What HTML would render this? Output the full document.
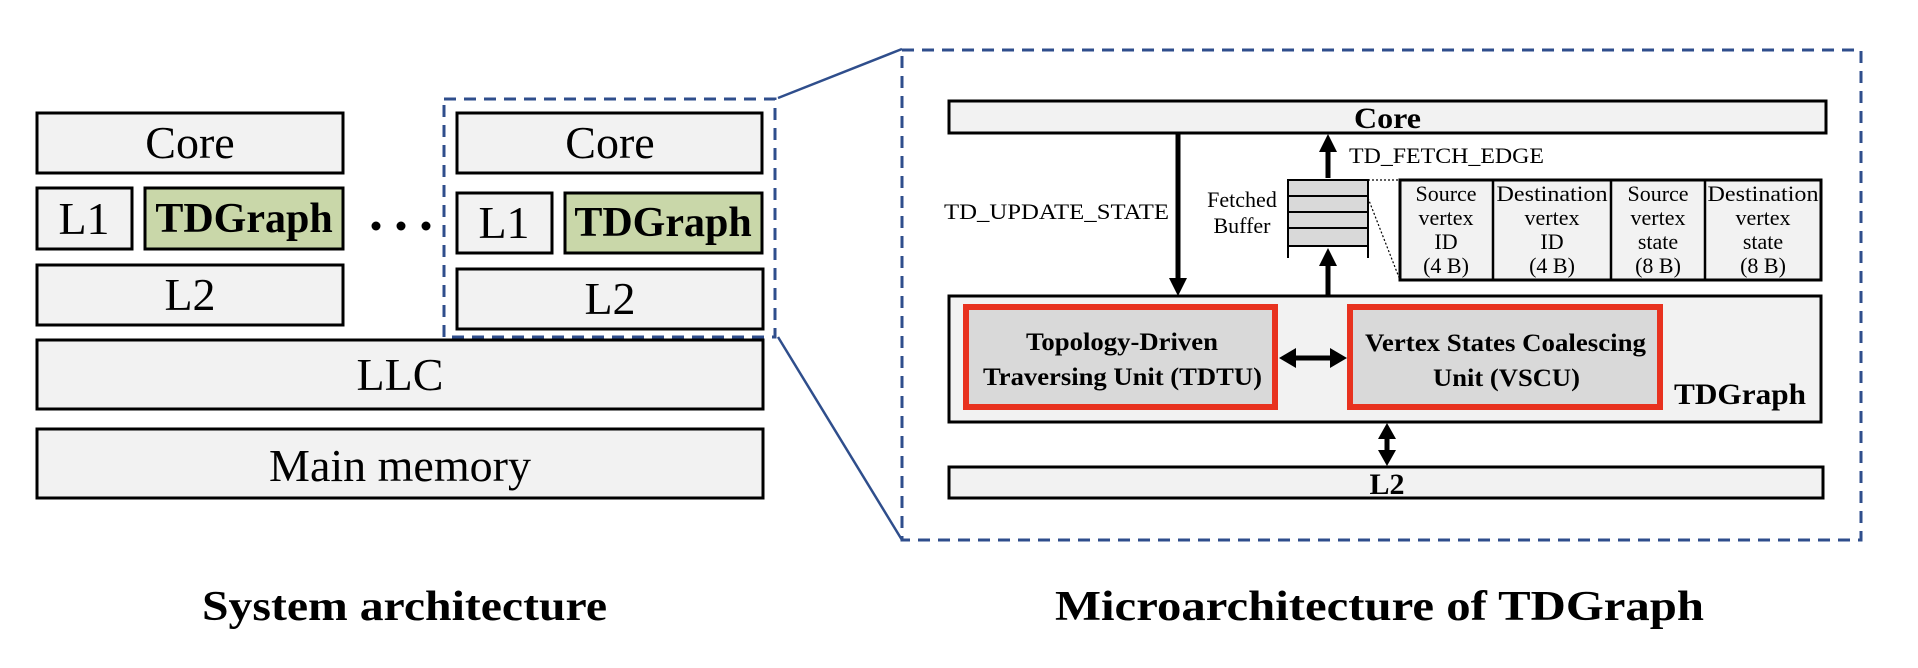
<!DOCTYPE html>
<html><head><meta charset="utf-8"><style>
html,body{margin:0;padding:0;background:#fff;}
svg{display:block;}
text{font-family:"Liberation Serif",serif;fill:#000;}
</style></head><body>
<svg width="1918" height="668" viewBox="0 0 1918 668" xmlns="http://www.w3.org/2000/svg">
<!-- Left system -->
<g stroke="#000" stroke-width="3" fill="#f2f2f2">
<rect x="37" y="113" width="306" height="60"/>
<rect x="37" y="188" width="95" height="61"/>
<rect x="145" y="188" width="198" height="61" fill="#c9d7a9"/>
<rect x="37" y="265" width="306" height="60"/>
<rect x="457" y="113" width="305" height="60"/>
<rect x="457" y="193" width="95" height="60"/>
<rect x="565" y="193" width="197" height="60" fill="#c9d7a9"/>
<rect x="457" y="269" width="306" height="60"/>
<rect x="37" y="340" width="726" height="69"/>
<rect x="37" y="429" width="726" height="69"/>
</g>
<g font-size="46" text-anchor="middle">
<text x="190" y="158">Core</text>
<text x="84" y="234">L1</text>
<text x="244" y="232" font-weight="bold" font-size="42">TDGraph</text>
<text x="190" y="310">L2</text>
<text x="610" y="158">Core</text>
<text x="504" y="238">L1</text>
<text x="663" y="236" font-weight="bold" font-size="42">TDGraph</text>
<text x="610" y="314">L2</text>
<text x="400" y="390">LLC</text>
<text x="400" y="481">Main memory</text>
</g>
<g fill="#000"><circle cx="376" cy="226" r="4.5"/><circle cx="401" cy="226" r="4.5"/><circle cx="426" cy="226" r="4.5"/></g>
<!-- dashed boxes -->
<g stroke="#2f4e8c" stroke-width="3" fill="none" stroke-dasharray="12,8">
<rect x="444" y="99" width="331" height="238"/>
<rect x="902" y="50" width="959" height="490"/>
</g>
<g stroke="#2f4e8c" stroke-width="2.5">
<line x1="778" y1="98" x2="902" y2="49"/>
<line x1="778" y1="337" x2="902" y2="540"/>
</g>
<!-- micro -->
<g stroke="#000" stroke-width="3" fill="#f2f2f2">
<rect x="949" y="101" width="877" height="32"/>
<rect x="949" y="296" width="872" height="126"/>
<rect x="949" y="467" width="874" height="31"/>
<rect x="1400" y="180" width="421" height="100"/>
</g>
<g stroke="#000" stroke-width="2.5"><line x1="1493" y1="180" x2="1493" y2="280"/><line x1="1611" y1="180" x2="1611" y2="280"/><line x1="1705" y1="180" x2="1705" y2="280"/></g>
<g stroke="#e8321f" stroke-width="6" fill="#d9d9d9">
<rect x="966" y="307" width="309" height="100"/>
<rect x="1350" y="307" width="310" height="100"/>
</g>
<!-- buffer -->
<g stroke="#000" stroke-width="2" fill="#d9d9d9">
<rect x="1288" y="180" width="80" height="16"/><rect x="1288" y="196" width="80" height="16"/>
<rect x="1288" y="212" width="80" height="16"/><rect x="1288" y="228" width="80" height="18"/>
<line x1="1288" y1="246" x2="1288" y2="258"/><line x1="1368" y1="246" x2="1368" y2="258"/>
</g>
<g stroke="#000" stroke-width="1.2" stroke-dasharray="2,2"><line x1="1368" y1="180" x2="1400" y2="180"/><line x1="1368" y1="198" x2="1400" y2="280"/></g>
<!-- arrows -->
<g stroke="#000" stroke-width="5" fill="none">
<line x1="1178" y1="133" x2="1178" y2="279"/>
<line x1="1328" y1="178" x2="1328" y2="150"/>
<line x1="1328" y1="296" x2="1328" y2="264"/>
<line x1="1295" y1="358" x2="1332" y2="358"/>
<line x1="1387" y1="437" x2="1387" y2="452"/>
</g>
<g fill="#000">
<path d="M1169,278 L1187,278 L1178,296 z"/>
<path d="M1319,152 L1337,152 L1328,134 z"/>
<path d="M1319,266 L1337,266 L1328,248 z"/>
<path d="M1296,348 L1296,368 L1279,358 z"/>
<path d="M1330,348 L1330,368 L1347,358 z"/>
<path d="M1378,439 L1396,439 L1387,423 z"/>
<path d="M1378,450 L1396,450 L1387,466 z"/>
</g>
<!-- micro text -->
<text x="1354" y="128" font-size="30" font-weight="bold" textLength="67" lengthAdjust="spacingAndGlyphs">Core</text>
<text x="1387" y="494" font-size="30" font-weight="bold" text-anchor="middle">L2</text>
<text x="1349" y="163" font-size="22" textLength="195" lengthAdjust="spacingAndGlyphs">TD_FETCH_EDGE</text>
<text x="944" y="219" font-size="22" textLength="225" lengthAdjust="spacingAndGlyphs">TD_UPDATE_STATE</text>
<text x="1242" y="207" font-size="22" text-anchor="middle">Fetched</text>
<text x="1242" y="233" font-size="22" text-anchor="middle">Buffer</text>
<g font-size="22" text-anchor="middle">
<text x="1446" y="201">Source</text><text x="1446" y="225">vertex</text><text x="1446" y="249">ID</text><text x="1446" y="273">(4 B)</text>
<text x="1552" y="201" textLength="111" lengthAdjust="spacingAndGlyphs">Destination</text><text x="1552" y="225">vertex</text><text x="1552" y="249">ID</text><text x="1552" y="273">(4 B)</text>
<text x="1658" y="201">Source</text><text x="1658" y="225">vertex</text><text x="1658" y="249">state</text><text x="1658" y="273">(8 B)</text>
<text x="1763" y="201" textLength="111" lengthAdjust="spacingAndGlyphs">Destination</text><text x="1763" y="225">vertex</text><text x="1763" y="249">state</text><text x="1763" y="273">(8 B)</text>
</g>
<g font-size="25" font-weight="bold">
<text x="1026" y="350" textLength="192" lengthAdjust="spacingAndGlyphs">Topology-Driven</text>
<text x="983" y="385" textLength="279" lengthAdjust="spacingAndGlyphs">Traversing Unit (TDTU)</text>
<text x="1365" y="351" textLength="281" lengthAdjust="spacingAndGlyphs">Vertex States Coalescing</text>
<text x="1433" y="386" textLength="147" lengthAdjust="spacingAndGlyphs">Unit (VSCU)</text>
</g>
<text x="1674" y="404" font-size="30" font-weight="bold" textLength="132" lengthAdjust="spacingAndGlyphs">TDGraph</text>
<!-- captions -->
<text x="202" y="620" font-size="42" font-weight="bold" textLength="405" lengthAdjust="spacingAndGlyphs">System architecture</text>
<text x="1055" y="620" font-size="42" font-weight="bold" textLength="649" lengthAdjust="spacingAndGlyphs">Microarchitecture of  TDGraph</text>
</svg>
</body></html>
